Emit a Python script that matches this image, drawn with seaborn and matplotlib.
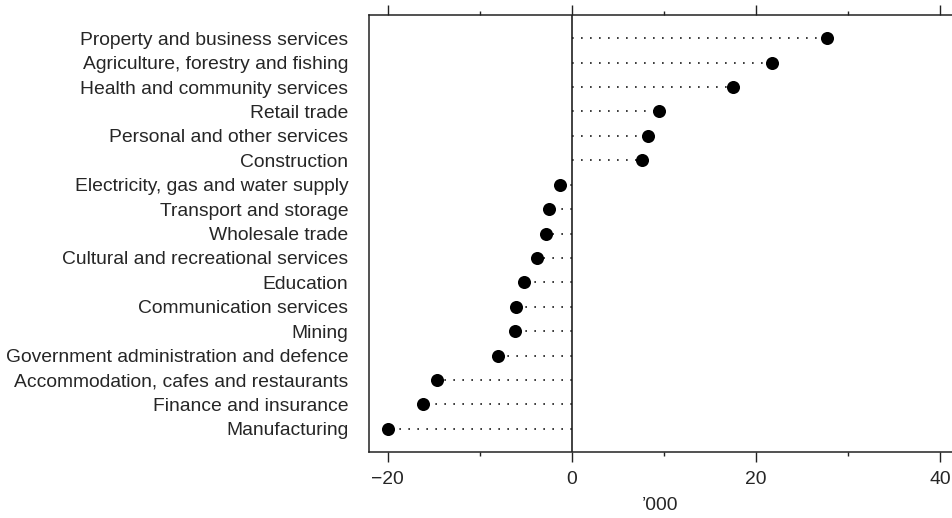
import matplotlib
matplotlib.use("Agg")
import matplotlib.pyplot as plt
import numpy as np
import pandas as pd
import seaborn as sns
from matplotlib.ticker import MultipleLocator

# Employment change by industry, '000
industries = [
    "Property and business services",
    "Agriculture, forestry and fishing",
    "Health and community services",
    "Retail trade",
    "Personal and other services",
    "Construction",
    "Electricity, gas and water supply",
    "Transport and storage",
    "Wholesale trade",
    "Cultural and recreational services",
    "Education",
    "Communication services",
    "Mining",
    "Government administration and defence",
    "Accommodation, cafes and restaurants",
    "Finance and insurance",
    "Manufacturing",
]
change = [27.7, 21.7, 17.5, 9.5, 8.3, 7.6, -1.3, -2.5, -2.8, -3.8,
          -5.2, -6.1, -6.2, -8.0, -14.7, -16.2, -20.0]

x_major = [-20, 0, 20, 40]
x_label = "\u2019000"

df = pd.DataFrame({"industry": industries, "change": change})

sns.set_style("ticks")
plt.rcParams["font.family"] = ["Liberation Sans", "DejaVu Sans"]
FS = 13.9

fig = plt.figure(figsize=(9.52, 5.18), dpi=100)
ax = fig.add_axes([369 / 952, 66 / 518, 583 / 952, 437 / 518])

# dotted leaders from zero to each value
pos = np.arange(len(df))
ax.hlines(pos, 0, df["change"], colors="#1a1a1a", linestyles=(0, (1, 4.4)), linewidth=1.2)
ax.axvline(0, color="#333333", linewidth=1.3, zorder=1)

sns.stripplot(data=df, x="change", y="industry", orient="h", jitter=False,
              color="black", size=9.4, linewidth=0, ax=ax, zorder=3)

ax.set_xlim(-22.05, 41.3)
ax.set_ylim(len(df) - 0.05, -0.95)
ax.set_xticks(x_major)
ax.set_xticklabels([str(v).replace("-", "\u2212") for v in x_major])
ax.xaxis.set_minor_locator(MultipleLocator(10))
ax.set_xlabel(x_label, fontsize=FS, labelpad=7)
ax.set_ylabel("")

ax.tick_params(axis="x", which="major", length=7.5, width=1, direction="out",
               top=True, bottom=True, labelsize=FS, pad=6, color="#222222")
ax.tick_params(axis="x", which="minor", length=3, width=1, direction="out",
               top=True, bottom=True, color="#222222")
ax.tick_params(axis="y", length=0, pad=15, labelsize=FS)

for side in ["left", "top", "bottom"]:
    ax.spines[side].set_visible(True)
    ax.spines[side].set_linewidth(1.1)
    ax.spines[side].set_color("#222222")
ax.spines["right"].set_visible(False)

fig.savefig("out.png", dpi=100)
